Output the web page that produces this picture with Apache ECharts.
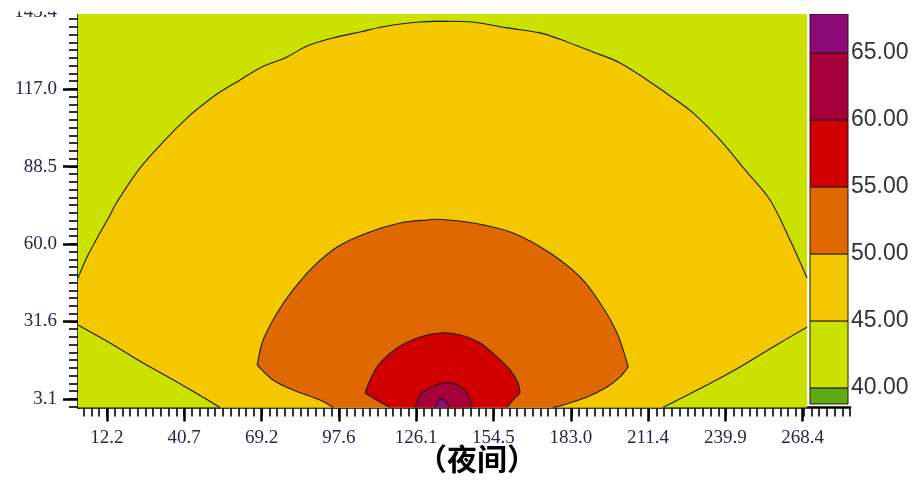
<!DOCTYPE html>
<html>
<head>
<meta charset="utf-8">
<script src="https://cdn.jsdelivr.net/npm/echarts@6/dist/echarts.min.js"></script>
<style>
  html, body { margin: 0; padding: 0; background: #ffffff; }
  #chart { width: 918px; height: 498px; }
</style>
</head>
<body>
<div id="chart"></div>
<script>
// Axis tick labels (distance in metres)
const xTickLabels = ['12.2', '40.7', '69.2', '97.6', '126.1', '154.5', '183.0', '211.4', '239.9', '268.4'];
const yTickLabels = ['3.1', '31.6', '60.0', '88.5', '117.0', '145.4'];

// Noise levels dB(A): contour levels and colour-bar bands
const levelValues = [40, 45, 50, 55, 60, 65];
const colorbarLabels = ['40.00', '45.00', '50.00', '55.00', '60.00', '65.00'];
// band colours: <40, 40-45, 45-50, 50-55, 55-60, 60-65, >65
const bandColors = ['#5eac12', '#cbe200', '#f3c800', '#df6900', '#d10000', '#a6003a', '#8a0a78'];

// Computed field extent (the area covered by the 40-45 band)
const fieldExtent = [[1.6, 0], [270.0, 0], [270.0, 145.4], [1.6, 145.4]];

// 45 dB contour: upper arc, right ground leg, left ground leg
const contour45Arc = [[1.63, 47.6], [4.58, 54.6], [9.00, 62.9], [13.41, 70.77], [15.99, 75.6], [24.46, 88.06],
  [33.66, 98.35], [41.76, 106.45], [46.54, 110.49], [52.80, 115.27], [61.27, 120.42], [68.63, 124.84],
  [78.57, 128.88], [85.93, 132.93], [95.50, 135.87], [105.44, 138.07], [115.38, 140.28], [127.53, 141.75],
  [134.89, 141.94], [146.67, 141.75], [159.55, 139.55], [171.70, 137.71], [181.64, 134.40], [191.21, 130.72],
  [201.15, 126.67], [211.09, 120.42], [220.66, 113.80], [228.03, 108.29], [237.96, 98.35], [247.17, 87.32],
  [256.37, 76.29], [263.73, 61.58], [270.0, 47.60]];
const contour45Right = [[270.0, 29.58], [257.47, 22.22], [245.33, 14.87], [233.17, 8.25], [216.98, 0]];
const contour45Left = [[53.91, 0], [38.08, 9.35], [25.56, 16.34], [13.41, 23.70], [1.63, 30.32]];

// 50 dB contour: left ground leg, arc, right ground leg
const contour50Left = [[95.50, 0], [90.72, 2.73], [80.78, 6.41], [73.42, 10.09], [67.53, 15.60]];
const contour50Arc = [[67.53, 15.60], [69.74, 24.80], [74.89, 34.73], [80.78, 43.19], [88.14, 51.65], [96.98, 59.00],
  [108.02, 64.15], [120.17, 67.83], [130.11, 68.93], [134.89, 69.12], [147.04, 67.83], [161.76, 64.15],
  [175.38, 56.80], [186.43, 47.97], [193.79, 38.41], [200.05, 27.37], [203.73, 16.34], [204.10, 14.87]];
const contour50Right = [[204.10, 14.87], [201.15, 11.19], [196.37, 7.51], [189.01, 3.84], [180.17, 0.89], [176.49, 0]];

// 55 dB contour: left ground leg, arc, right ground leg
const contour55Left = [[116.49, 0], [112.81, 2.00], [107.28, 5.31]];
const contour55Arc = [[107.28, 5.31], [109.12, 10.09], [112.81, 16.34], [119.06, 21.86], [127.53, 25.90],
  [134.89, 27.37], [142.26, 26.64], [149.62, 23.70], [155.87, 18.55], [160.66, 13.77], [163.60, 8.98], [164.34, 5.31]];
const contour55Right = [[164.34, 5.31], [161.76, 2.73], [159.55, 0]];

// 60 dB contour
const contour60 = [[125.69, 0], [127.53, 4.57], [131.21, 7.15], [136.00, 8.98], [141.15, 8.25], [144.83, 5.31], [146.67, 0]];

// 65 dB contour
const contour65 = [[133.05, 0], [134.15, 2.36], [136.00, 3.10], [137.47, 1.63], [138.21, 0]];

// Region outlines per level, in the same order as levelValues
const levelOutlines = [
  [fieldExtent],
  [contour45Arc, contour45Right, contour45Left],
  [contour50Left, contour50Arc, contour50Right],
  [contour55Left, contour55Arc, contour55Right],
  [contour60],
  [contour65]
];

// Axis extents
const xMin = 1.6, xMax = 285.8, yMin = 0, yMax = 145.4;
const barMin = 38.8, barMax = 67.9;

const xMajor = xTickLabels.map(Number);
const yMajor = yTickLabels.map(Number);
const xStep = (xMajor[1] - xMajor[0]) / 10;
const yStep = (yMajor[1] - yMajor[0]) / 10;
function minorTicks(origin, step, lo, hi) {
  const out = [];
  const kStart = Math.ceil((lo - origin) / step - 1e-6);
  const kEnd = Math.floor((hi - origin) / step + 1e-6);
  for (let k = kStart; k <= kEnd; k++) out.push(+(origin + k * step).toFixed(4));
  return out;
}
const xMinor = minorTicks(xMajor[0], xStep, xMin, xMax);
const yMinor = minorTicks(yMajor[0], yStep, yMin, yMax);

const bandEdges = [barMin].concat(levelValues, [barMax]);

const labelFont = { fontFamily: '"Liberation Serif", "Times New Roman", serif', fontSize: 19, color: '#26264a' };

const fmt = n => n.toFixed(2);

// Straight path through pixel points
function straightPath(pts, moveFirst) {
  return pts.map((p, k) => ((k === 0 && moveFirst) ? 'M' : 'L') + fmt(p[0]) + ' ' + fmt(p[1])).join(' ');
}

// Smooth a pixel polyline with Catmull-Rom segments; returns SVG path commands
function curvePath(pts, moveFirst) {
  let d = (moveFirst ? 'M' : 'L') + fmt(pts[0][0]) + ' ' + fmt(pts[0][1]);
  for (let i = 0; i < pts.length - 1; i++) {
    const p0 = pts[Math.max(i - 1, 0)], p1 = pts[i], p2 = pts[i + 1], p3 = pts[Math.min(i + 2, pts.length - 1)];
    const c1 = [p1[0] + (p2[0] - p0[0]) / 6, p1[1] + (p2[1] - p0[1]) / 6];
    const c2 = [p2[0] - (p3[0] - p1[0]) / 6, p2[1] - (p3[1] - p1[1]) / 6];
    d += ' C' + fmt(c1[0]) + ' ' + fmt(c1[1]) + ' ' + fmt(c2[0]) + ' ' + fmt(c2[1]) + ' ' + fmt(p2[0]) + ' ' + fmt(p2[1]);
  }
  return d;
}

function renderField(params, api) {
  const i = api.value(0);
  const segs = levelOutlines[i].map(l => l.map(p => api.coord(p)));
  const draw = i === 0 ? straightPath : curvePath;
  let fillPath = '';
  segs.forEach((s, k) => { fillPath += (k ? ' ' : '') + draw(s, k === 0); });
  fillPath += ' Z';
  const children = [{
    type: 'path',
    shape: { pathData: fillPath },
    style: { fill: bandColors[i + 1], stroke: null }
  }];
  if (i > 0) {
    segs.forEach(s => children.push({
      type: 'path',
      shape: { pathData: curvePath(s, true) },
      style: { fill: null, stroke: '#1a1a1a', lineWidth: 1.1 }
    }));
  }
  return { type: 'group', children };
}

function renderBand(params, api) {
  const i = api.value(0);
  const tl = api.coord([0, bandEdges[i + 1]]);
  const br = api.coord([1, bandEdges[i]]);
  return {
    type: 'rect',
    shape: { x: tl[0], y: tl[1], width: br[0] - tl[0], height: br[1] - tl[1] },
    style: { fill: bandColors[i], stroke: '#2a1414', lineWidth: 1 }
  };
}

const chart = echarts.init(document.getElementById('chart'), null, { renderer: 'canvas' });
chart.setOption({
  animation: false,
  backgroundColor: '#ffffff',
  grid: [
    { left: 78, top: 12, width: 772, height: 395.4 },
    { left: 810, top: 14, width: 38, height: 390 }
  ],
  xAxis: [
    {
      gridIndex: 0, type: 'value', position: 'bottom', min: xMin, max: xMax,
      axisLine: { onZero: false, lineStyle: { color: '#000', width: 2.5 } },
      axisTick: { customValues: xMajor, length: 14, lineStyle: { color: '#000', width: 2.5 } },
      axisLabel: Object.assign({ customValues: xMajor, margin: 21, formatter: v => Number(v).toFixed(1) }, labelFont),
      splitLine: { show: false }
    },
    {
      gridIndex: 0, type: 'value', position: 'bottom', min: xMin, max: xMax,
      axisLine: { show: false, onZero: false },
      axisTick: { customValues: xMinor, length: 9, lineStyle: { color: '#000', width: 1.6 } },
      axisLabel: { show: false },
      splitLine: { show: false }
    },
    { gridIndex: 1, type: 'value', min: 0, max: 1, show: false }
  ],
  yAxis: [
    {
      gridIndex: 0, type: 'value', position: 'left', min: yMin, max: yMax,
      axisLine: { onZero: false, lineStyle: { color: '#000', width: 2.5 } },
      axisTick: { customValues: yMajor, length: 15, lineStyle: { color: '#000', width: 2.5 } },
      axisLabel: Object.assign({ customValues: yMajor, margin: 21, formatter: v => Number(v).toFixed(1) }, labelFont),
      splitLine: { show: false }
    },
    {
      gridIndex: 0, type: 'value', position: 'left', min: yMin, max: yMax,
      axisLine: { show: false, onZero: false },
      axisTick: { customValues: yMinor, length: 9, lineStyle: { color: '#000', width: 1.6 } },
      axisLabel: { show: false },
      splitLine: { show: false }
    },
    {
      gridIndex: 1, type: 'value', position: 'right', min: barMin, max: barMax,
      axisLine: { show: false },
      axisTick: { show: false },
      axisLabel: {
        customValues: levelValues, margin: 3,
        formatter: v => colorbarLabels[levelValues.indexOf(Number(v))] || Number(v).toFixed(2),
        fontFamily: '"Liberation Sans", Arial, sans-serif', fontSize: 23, color: '#333333'
      },
      splitLine: { show: false }
    }
  ],
  series: [
    {
      type: 'custom', xAxisIndex: 0, yAxisIndex: 0, z: 1,
      renderItem: renderField,
      data: levelValues.map((v, i) => ({ value: [i] })),
      silent: true
    },
    {
      type: 'custom', xAxisIndex: 2, yAxisIndex: 2, z: 1,
      renderItem: renderBand,
      data: bandColors.map((c, i) => ({ value: [i] })),
      silent: true
    }
  ],
  graphic: [
    {
      // white top margin that trims the frame's upper edge
      type: 'rect', left: 0, top: 0, z: 100,
      shape: { width: 62, height: 11.5 },
      style: { fill: '#ffffff' }
    },
    {
      type: 'rect', left: 62, top: 0, z: 100,
      shape: { width: 856, height: 14 },
      style: { fill: '#ffffff' }
    },
    {
      type: 'text', x: 477, y: 459, z: 100,
      style: {
        text: '（夜间）', align: 'center', verticalAlign: 'middle',
        font: 'bold 30px "Noto Sans CJK SC", sans-serif', fill: '#000'
      }
    }
  ]
});
</script>
</body>
</html>
